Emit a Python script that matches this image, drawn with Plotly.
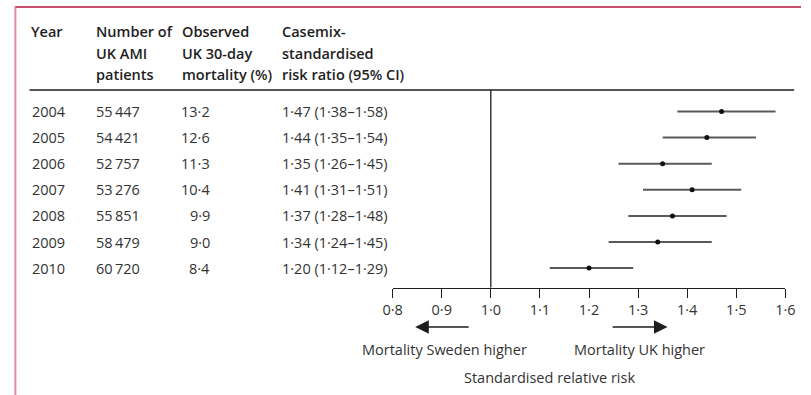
import plotly.graph_objects as go

# ---- data -------------------------------------------------------------
years = ["2004", "2005", "2006", "2007", "2008", "2009", "2010"]
patients = [55447, 54421, 52757, 53276, 55851, 58479, 60720]
mortality = [13.2, 12.6, 11.3, 10.4, 9.9, 9.0, 8.4]
risk_ratio = [1.47, 1.44, 1.35, 1.41, 1.37, 1.34, 1.20]
ci_low = [1.38, 1.35, 1.26, 1.31, 1.28, 1.24, 1.12]
ci_high = [1.58, 1.54, 1.45, 1.51, 1.48, 1.45, 1.29]

x_ticks = [0.8, 0.9, 1.0, 1.1, 1.2, 1.3, 1.4, 1.5, 1.6]

header_year = ["Year"]
header_patients = ["Number of", "UK AMI", "patients"]
header_mortality = ["Observed", "UK 30-day", "mortality (%)"]
header_ratio = ["Casemix-", "standardised", "risk ratio (95% CI)"]

# ---- page geometry (pixels) -------------------------------------------
W, H = 811, 395
FONT = "Open Sans"
FS = 14.5
TXT = "#333333"
DARK = "#1e1e1e"
ROW0, PITCH = 111.5, 26.1        # centre of first row, row spacing
AXIS_Y = 287.5                   # forest-plot axis line
RULE_Y = 90                      # rule under the header


def px(p):
    return p / W


def py(p):
    return 1 - p / H


def dot(v, nd):
    return f"{v:.{nd}f}".replace(".", "·")


def thousands(n):
    return f"{n:,}".replace(",", "\u2009")


rows = list(range(len(years)))

fig = go.Figure()

# confidence intervals and point estimates
fig.add_trace(go.Scatter(
    x=risk_ratio, y=rows, mode="markers",
    marker=dict(color="#111111", size=5),
    error_x=dict(type="data", symmetric=False,
                 array=[h - r for h, r in zip(ci_high, risk_ratio)],
                 arrayminus=[r - l for r, l in zip(risk_ratio, ci_low)],
                 color="#5a5a5a", thickness=2, width=0),
    hoverinfo="skip", showlegend=False,
))

annotations = []


def label(text, x, y, xanchor="left", yref="y", bold=False):
    annotations.append(dict(
        text=text, x=x, y=y, xref="paper", yref=yref,
        xanchor=xanchor, yanchor="middle", showarrow=False, borderpad=0,
        font=dict(family=FONT, size=FS, color=DARK if bold else TXT,
                  weight=600 if bold else 400),
    ))


# header block, one annotation per line
for col_x, lines in [(20, header_year), (87, header_patients),
                     (175, header_mortality), (278, header_ratio)]:
    for k, line in enumerate(lines):
        label(line, px(col_x), py(32 + 21 * k), yref="paper", bold=True)

# table body
for i in rows:
    label(years[i], px(22), i)
    label(thousands(patients[i]), px(87), i)
    label(dot(mortality[i], 1), px(206), i, xanchor="right")
    label(f"{dot(risk_ratio[i], 2)} ({dot(ci_low[i], 2)}–{dot(ci_high[i], 2)})",
          px(278), i)

# direction captions under the axis
for text, xv in [("Mortality Sweden higher", 0.905), ("Mortality UK higher", 1.302)]:
    annotations.append(dict(text=text, x=xv, y=py(349), xref="x", yref="paper",
                            showarrow=False, xanchor="center", yanchor="middle",
                            font=dict(family=FONT, size=FS, color=TXT)))
annotations.append(dict(text="Standardised relative risk", x=1.12, y=py(377),
                        xref="x", yref="paper", showarrow=False,
                        xanchor="center", yanchor="middle",
                        font=dict(family=FONT, size=FS, color=TXT)))

# arrows
for head, tail in [(0.846, 0.958), (1.36, 1.245)]:
    annotations.append(dict(text="", x=head, y=py(327), ax=tail, ay=0,
                            xref="x", yref="paper", axref="x", ayref="pixel",
                            showarrow=True, arrowhead=2, arrowsize=1.7,
                            arrowwidth=1.6, arrowcolor="#1e1e1e"))

shapes = [
    # frame
    dict(type="line", xref="paper", yref="paper", x0=px(5), x1=1,
         y0=py(7), y1=py(7), line=dict(color="#b3123c", width=1.6)),
    dict(type="line", xref="paper", yref="paper", x0=px(5.5), x1=px(5.5),
         y0=py(7), y1=0, line=dict(color="#e38aa2", width=2)),
    # header rule
    dict(type="line", xref="paper", yref="paper", x0=px(20), x1=px(804),
         y0=py(RULE_Y), y1=py(RULE_Y), line=dict(color=DARK, width=1.3)),
    # line of no difference
    dict(type="line", xref="x", yref="paper", x0=1.0, x1=1.0,
         y0=py(RULE_Y), y1=py(AXIS_Y), line=dict(color=DARK, width=1.3)),
]

x0_px, x1_px = 392.3, 795.0
fig.update_layout(
    width=W, height=H, margin=dict(l=0, r=0, t=0, b=0),
    paper_bgcolor="white", plot_bgcolor="white",
    font=dict(family=FONT, size=FS, color=TXT),
    xaxis=dict(range=[x_ticks[0], x_ticks[-1]], domain=[px(x0_px), px(x1_px)],
               anchor="free", position=py(AXIS_Y), showline=True,
               linecolor=DARK, linewidth=1.3, ticks="outside", ticklen=9,
               tickwidth=1.3, tickcolor=DARK, tickvals=x_ticks,
               ticktext=[dot(t, 1) for t in x_ticks],
               tickfont=dict(family=FONT, size=FS, color=TXT),
               showgrid=False, zeroline=False, fixedrange=True),
    yaxis=dict(range=[(H - ROW0) / PITCH, -ROW0 / PITCH], domain=[0, 1],
               visible=False, fixedrange=True),
    annotations=annotations, shapes=shapes, showlegend=False,
)

fig.write_html("out.html")
